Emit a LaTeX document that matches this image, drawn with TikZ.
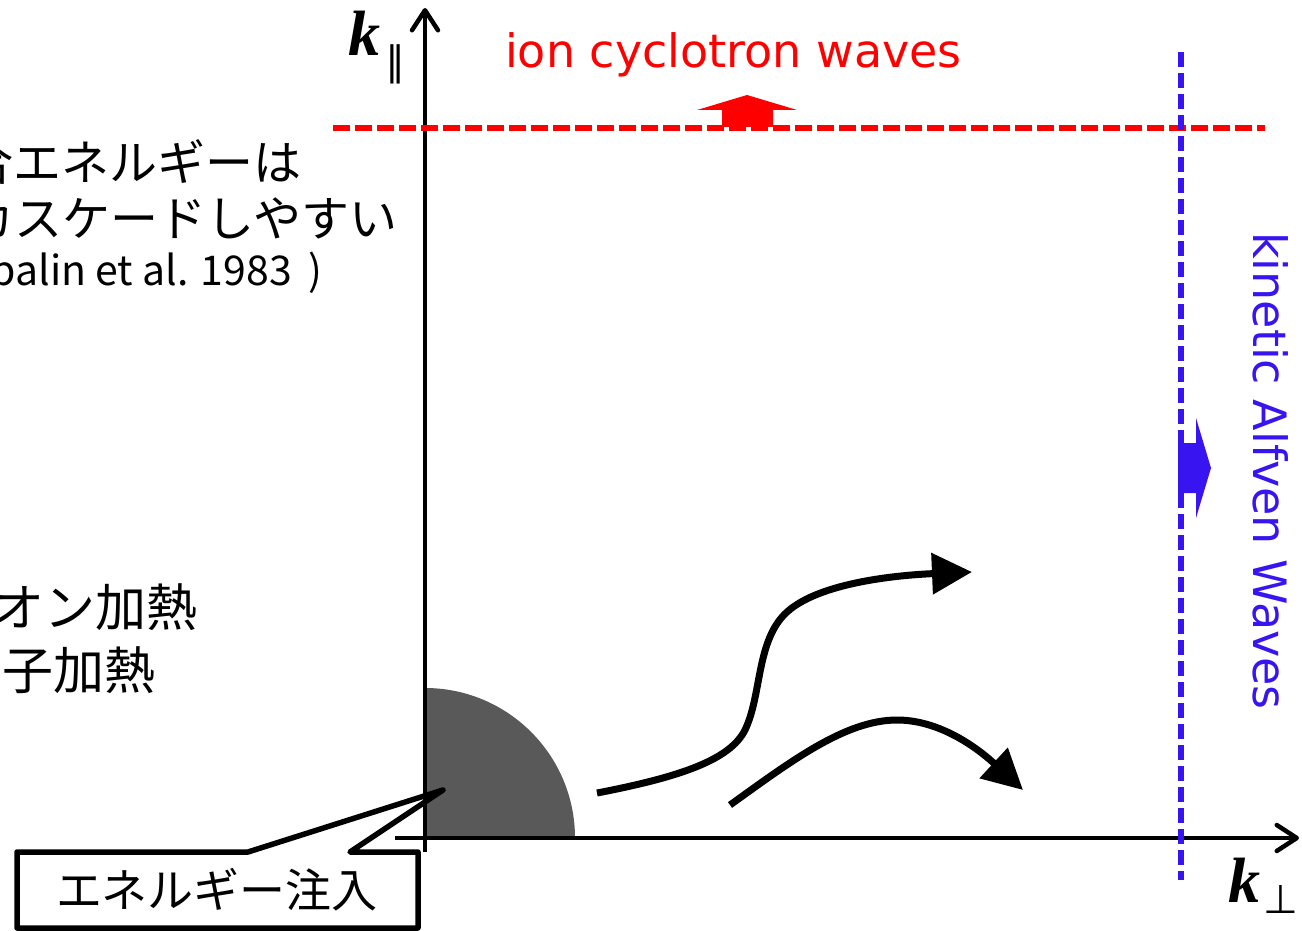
\documentclass[tikz,border=0pt]{standalone}
\usepackage{fontspec}
\usetikzlibrary{arrows.meta}
\newfontfamily\jpfont{Noto Sans CJK JP}
\newfontfamily\dvfont{DejaVu Sans}
\newfontfamily\tnrfont{Liberation Serif}
\definecolor{icred}{RGB}{255,0,0}
\definecolor{kablue}{RGB}{55,20,240}
\definecolor{injgray}{RGB}{89,89,89}
\tikzset{
  axisline/.style={line width=4.5pt, -{Straight Barb[length=20pt,width=26pt,round]}},
  flowcurve/.style={line width=7pt, -{Triangle[length=40pt,width=40pt]}},
  jptext/.style={font=\jpfont\fontsize{48}{48}\selectfont, inner sep=0pt},
  heattext/.style={font=\jpfont\fontsize{51}{51}\selectfont, inner sep=0pt},
  callout/.style={line width=5.5pt, line join=round},
  redwave/.style={icred, line width=5.5pt, dash pattern=on 17pt off 5pt},
  bluewave/.style={kablue, line width=5.5pt, dash pattern=on 15pt off 6pt},
  klabel/.style={font=\tnrfont\bfseries\itshape\fontsize{64}{64}\selectfont, inner sep=0pt},
  sublabel/.style={font=\dvfont\fontsize{40}{40}\selectfont, inner sep=0pt},
}
\begin{document}
\begin{tikzpicture}[x=1pt,y=-1pt]
\path[use as bounding box] (0,0) rectangle (1302,931);
\clip (0,0) rectangle (1302,931);
% energy injection region
\begin{scope}
  \clip (425,688) rectangle (575,838);
  \fill[injgray] (425,838) circle[radius=150pt];
\end{scope}
% axes
\coordinate (vb) at (425,852);
\coordinate (vt) at (425,8);
\coordinate (hl) at (395,838);
\coordinate (hr) at (1299,838);
\draw[axisline] (vb) -- (vt);
\draw[axisline] (hl) -- (hr);
\node[klabel, anchor=base west] (kpar) at (348,56) {k};
\node[sublabel] (kparsub) at (395,64) {∥};
\node[klabel, anchor=base west] (kperp) at (1228,902) {k};
\node[sublabel] (kperpsub) at (1281,899) {⊥};
% ion cyclotron waves
\coordinate (rl) at (333,128);
\coordinate (rr) at (1265,128);
\draw[redwave] (rl) -- (rr);
\fill[icred] (722,127) -- (722,110) -- (697,110) -- (747,95) -- (797,110) -- (773,110) -- (773,127) -- cycle;
\node[anchor=base west, inner sep=0pt, text=icred, font=\dvfont\fontsize{46}{46}\selectfont] (icw) at (505,68) {ion cyclotron waves};
% kinetic Alfven waves
\coordinate (bt) at (1181,52);
\coordinate (bb) at (1181,880);
\draw[bluewave] (bt) -- (bb);
\fill[kablue] (1178,443) -- (1196,443) -- (1196,418) -- (1211,468) -- (1196,518) -- (1196,493) -- (1178,493) -- cycle;
\node[anchor=base west, inner sep=0pt, rotate=-90, text=kablue, font=\dvfont\fontsize{46}{46}\selectfont] (kaw) at (1253,232) {kinetic Alfven Waves};
% cascade arrows
\coordinate (c1s) at (597,793);
\coordinate (c1e) at (972,572);
\draw[flowcurve] (c1s) .. controls (680,777) and (730,760) .. (745,730) .. controls (762,695) and (756,640) .. (787,612) .. controls (820,582) and (900,575) .. (c1e);
\coordinate (c2s) at (730,805);
\coordinate (c2e) at (1023,790);
\draw[flowcurve] (c2s) .. controls (790,762) and (845,720) .. (897,720) .. controls (945,720) and (985,755) .. (c2e);
% left texts (partly cut off)
\node[jptext, anchor=east] (t1) at (302,162) {場合エネルギーは};
\node[jptext, anchor=east] (t2) at (398,218) {方向にカスケードしやすい};
\node[anchor=east, inner sep=0pt, font=\jpfont\fontsize{41}{41}\selectfont] (t3) at (323,273) {( Shebalin et al. 1983\hspace{17pt})};
\node[heattext, anchor=east] (t4) at (198,607) {イオン加熱};
\node[heattext, anchor=east] (t5) at (156,670) {電子加熱};
% callout
\coordinate (tip) at (443,790);
\draw[callout] (17,852) -- (248,852) -- (tip) -- (350,852) -- (418,852) -- (418,928) -- (17,928) -- cycle;
\node[inner sep=0pt, font=\jpfont\fontsize{46}{46}\selectfont] (inj) at (217,890) {エネルギー注入};
\end{tikzpicture}
\end{document}
